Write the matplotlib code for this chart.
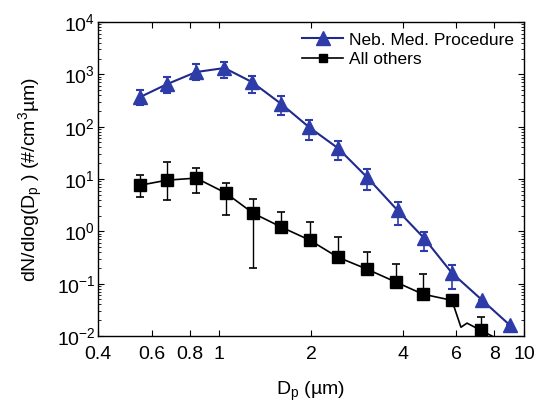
import numpy as np
import matplotlib.pyplot as plt
from matplotlib.ticker import FixedLocator, LogLocator, NullLocator

plt.rcParams['font.family'] = ['Liberation Sans', 'DejaVu Sans']
plt.rcParams['mathtext.default'] = 'regular'
plt.rcParams['axes.unicode_minus'] = False

# Neb. Med. Procedure
neb_dp = [0.55, 0.674, 0.84, 1.04, 1.28, 1.6, 1.97, 2.45, 3.05, 3.85, 4.7, 5.8, 7.3, 9.0]
neb_n = [368, 650, 1107, 1320, 713, 270, 98, 39, 10.9, 2.5, 0.74, 0.16, 0.048, 0.016]
neb_lo = [259, 439, 778, 849, 439, 167, 55, 23, 6.1, 1.31, 0.42, 0.0785, 0.048, 0.016]
neb_hi = [500, 900, 1574, 1718, 929, 385, 134, 53, 15.5, 3.6, 0.97, 0.226, 0.048, 0.016]

# All others (markers)
oth_dp = [0.55, 0.674, 0.84, 1.05, 1.29, 1.6, 1.98, 2.45, 3.05, 3.8, 4.66, 5.8, 7.2]
oth_n = [7.6, 9.5, 10.4, 5.4, 2.23, 1.2, 0.68, 0.32, 0.19, 0.107, 0.063, 0.048, 0.0129]
oth_lo = [4.5, 3.95, 5.4, 2.04, 0.198, 1.2, 0.68, 0.32, 0.19, 0.107, 0.063, 0.048, 0.0129]
oth_hi = [11.9, 21, 16.2, 8.4, 4.1, 2.33, 1.5, 0.77, 0.40, 0.236, 0.152, 0.048, 0.023]

# All others (full line, includes unmarked points)
oth_line_dp = [0.55, 0.674, 0.84, 1.05, 1.29, 1.6, 1.98, 2.45, 3.05, 3.8, 4.66, 5.8,
               6.21, 6.5, 7.2, 8.22, 8.8]
oth_line_n = [7.6, 9.5, 10.4, 5.4, 2.23, 1.2, 0.68, 0.32, 0.19, 0.107, 0.063, 0.048,
              0.0147, 0.0176, 0.0129, 0.0087, 0.006]

xticks = [0.4, 0.6, 0.8, 1, 2, 4, 6, 8, 10]
xticklabels = ['0.4', '0.6', '0.8', '1', '2', '4', '6', '8', '10']

blue_line = '#1f2a8c'
blue_mark = '#2e3caa'

fig = plt.figure(figsize=(5.37, 4.03), dpi=100)
ax = fig.add_axes([0.1825, 0.1663, 0.7933, 0.7791])

neb_n = np.array(neb_n)
oth_n = np.array(oth_n)
neb_err = [neb_n - np.array(neb_lo), np.array(neb_hi) - neb_n]
oth_err = [oth_n - np.array(oth_lo), np.array(oth_hi) - oth_n]

ax.plot(neb_dp, neb_n, '-', color=blue_line, lw=1.5, zorder=2)
ax.errorbar(neb_dp, neb_n, yerr=neb_err, fmt='^', color=blue_mark, ms=10,
            ecolor=blue_mark, elinewidth=1.2, capsize=3, capthick=1.5,
            label='Neb. Med. Procedure', zorder=3)

ax.plot(oth_line_dp, oth_line_n, '-', color='black', lw=1.2, zorder=2)
ax.errorbar(oth_dp, oth_n, yerr=oth_err, fmt='s', color='black', ms=8,
            ecolor='black', elinewidth=1.0, capsize=3, capthick=1.2,
            label='All others', zorder=3)

ax.set_xscale('log')
ax.set_yscale('log')
ax.set_xlim(0.4, 10)
ax.set_ylim(1e-2, 1e4)

ax.xaxis.set_major_locator(FixedLocator(xticks))
ax.set_xticklabels(xticklabels)
ax.xaxis.set_minor_locator(NullLocator())
ax.yaxis.set_major_locator(LogLocator(base=10, numticks=10))
ax.yaxis.set_minor_locator(LogLocator(base=10, subs=np.arange(2, 10), numticks=10))

ax.tick_params(which='both', direction='in', top=True, right=True, labelsize=14)
ax.tick_params(which='major', length=4)
ax.tick_params(which='minor', length=2)
ax.tick_params(axis='x', pad=7)
ax.tick_params(axis='y', pad=2)
for s in ax.spines.values():
    s.set_linewidth(1.0)

ax.set_xlabel('D$_p$ (µm)', fontsize=14, labelpad=12)
ax.set_ylabel('dN/dlog(D$_p$ ) (#/cm$^3$µm)', fontsize=14, labelpad=8)

handles = [plt.Line2D([], [], color=blue_line, marker='^', ms=10, mfc=blue_mark, mec=blue_mark, lw=1.5),
           plt.Line2D([], [], color='black', marker='s', ms=6, lw=1.2)]
ax.legend(handles, ['Neb. Med. Procedure', 'All others'], loc='upper right',
          frameon=False, fontsize=12.5, handlelength=2.4, handletextpad=0.3,
          labelspacing=0.25, borderaxespad=0.2)

fig.savefig('out.png', dpi=100)
